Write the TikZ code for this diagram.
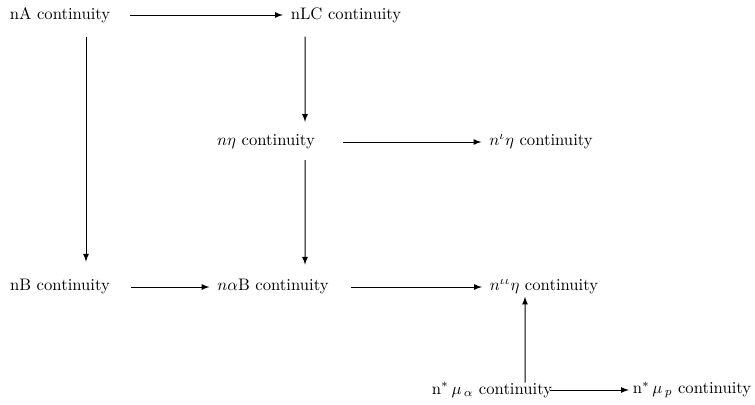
\documentclass[tikz,border=0pt]{standalone}
\usetikzlibrary{arrows}
\begin{document}
\begin{tikzpicture}[x=0.6pt,y=-0.6pt,>=latex,semithick,
  every node/.style={inner sep=0pt,outer sep=0pt}]
\useasboundingbox (0,0) rectangle (755,404);
\node (nA) at (60,15) {nA continuity};
\node (nLC) at (346,15) {nLC continuity};
\node (neta) at (266,142) {$n\eta$ continuity};
\node (nieta) at (541,142) {$n^{\iota}\eta$ continuity};
\node (nB) at (60,287) {nB continuity};
\node (nalB) at (273,287) {$n\alpha$B continuity};
\node (niieta) at (544,287) {$n^{\iota\iota}\eta$ continuity};
\node (nmua) at (492,390) {n$^*\,\mu_{\,\alpha}$\ continuity};
\node (nmup) at (692,390) {n$^*\,\mu_{\,p}$\ continuity};
\draw[->]([xshift=12pt]nA.east)--([xshift=-4.8pt]nLC.west);
\draw[->]([xshift=15.6pt,yshift=-8.4pt]nA.south)--([xshift=15.6pt,yshift=10.8pt]nB.north);
\draw[->]([xshift=-24.6pt,yshift=-8.4pt]nLC.south)--([xshift=23.4pt,yshift=7.8pt]neta.north);
\draw[->]([xshift=16.8pt]neta.east)--([xshift=-4.8pt]nieta.west);
\draw[->]([xshift=23.4pt,yshift=-6.6pt]neta.south)--([xshift=19.2pt,yshift=9pt]nalB.north);
\draw[->]([xshift=12.6pt]nB.east)--([xshift=-4.8pt]nalB.west);
\draw[->]([xshift=13.2pt]nalB.east)--([xshift=-4.8pt]niieta.west);
\draw[->]([xshift=19.8pt]nmua.north)--([xshift=-11.4pt,yshift=-1.5pt]niieta.south);
\draw[->]([xshift=-1pt]nmua.east)--([xshift=-2.4pt]nmup.west);
\end{tikzpicture}
\end{document}
